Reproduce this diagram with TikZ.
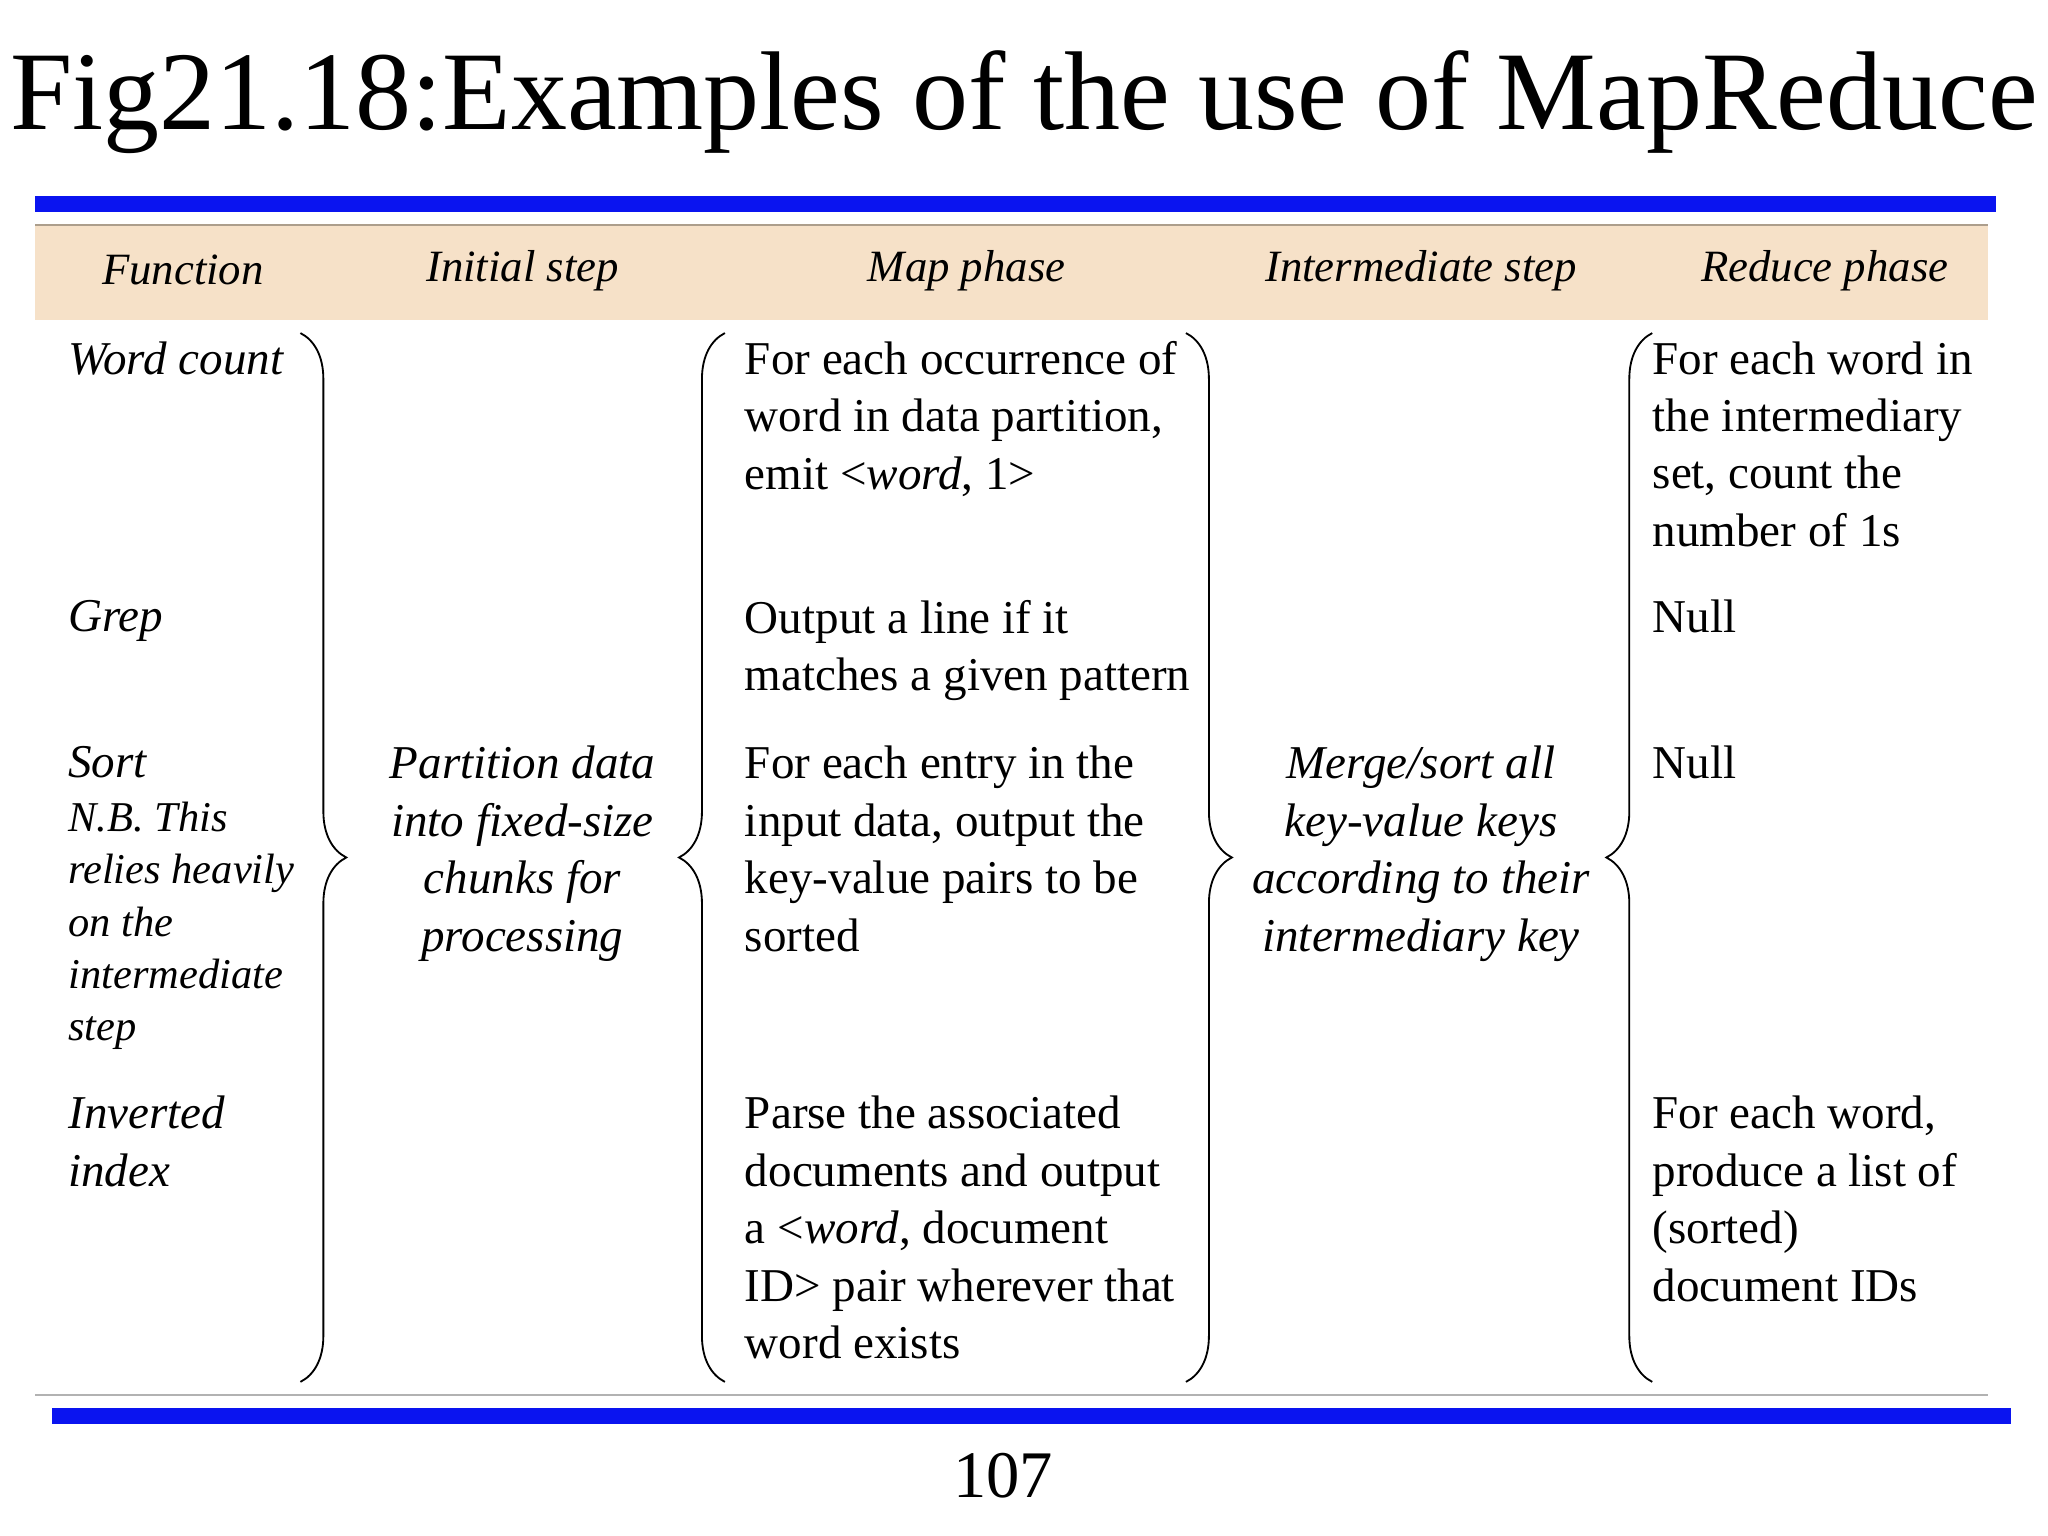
\documentclass[tikz,border=0pt]{standalone}
\usepackage{fontspec}
\setmainfont{Liberation Serif}
\usetikzlibrary{decorations.pathreplacing}
\definecolor{beige}{HTML}{F6E1C8}
\definecolor{barblue}{HTML}{0A14F0}
\tikzset{
 txt/.style={anchor=north west,align=left,inner sep=0pt,font=\fontsize{20.5}{25}\selectfont},
 itx/.style={txt,font=\fontsize{20.5}{25}\selectfont\itshape},
 ctx/.style={anchor=north,align=center,inner sep=0pt,font=\fontsize{20.5}{25}\selectfont\itshape},
 hdr/.style={anchor=center,inner sep=0pt,font=\fontsize{19.5}{24}\selectfont\itshape},
 brc/.style={decorate,decoration={brace,amplitude=20pt},line width=0.8pt},
}
\begin{document}
\begin{tikzpicture}[x=0.02cm,y=-0.02cm]
\useasboundingbox (0,0) rectangle (1568,1176);
\node[font=\fontsize{48.8}{60}\selectfont,inner sep=0pt] (title) at (784,78) {Fig21.18:Examples of the use of MapReduce};
\fill[barblue] (27,150) rectangle (1528,162);
\fill[barblue] (40,1078) rectangle (1540,1090);
\fill[beige] (27,172) rectangle (1522,245);
\draw[beige!70!black,line width=0.8pt] (27,172) -- (1522,172);
\draw[black!30,line width=1pt] (27,1068) -- (1522,1068);
\node[hdr] (h1) at (140,207) {Function};
\node[hdr] (h2) at (400,207) {Initial step};
\node[hdr] (h3) at (740,207) {Map phase};
\node[hdr] (h4) at (1088,207) {Intermediate step};
\node[hdr] (h5) at (1397,207) {Reduce phase};
% braces
\draw[brc] (230,255) -- (230,1058);
\draw[brc] (555,1058) -- (555,255);
\draw[brc] (908,255) -- (908,1058);
\draw[brc] (1265,1058) -- (1265,255);
% function column
\node[itx] (f1) at (52,261) {Word count};
\node[itx] (f2) at (52,459) {Grep};
\node[itx] (f3) at (52,571) {Sort};
\node[itx,font=\fontsize{18.5}{22.7}\selectfont\itshape] (f3b) at (52,614) {N.B. This\\relies heavily\\on the\\intermediate\\step};
\node[itx] (f4) at (52,839) {Inverted\\index};
% initial
\node[ctx] (i1) at (400,571) {Partition data\\into fixed-size\\chunks for\\processing};
% map
\node[txt] (m1) at (570,261) {For each occurrence of\\word in data partition,\\emit <\textit{word}, 1>};
\node[txt] (m2) at (570,459) {Output a line if it\\matches a given pattern};
\node[txt] (m3) at (570,571) {For each entry in the\\input data, output the\\key-value pairs to be\\sorted};
\node[txt] (m4) at (570,839) {Parse the associated\\documents and output\\a <\textit{word}, document\\ID> pair wherever that\\word exists};
% intermediate
\node[ctx] (n1) at (1088,571) {Merge/sort all\\key-value keys\\according to their\\intermediary key};
% reduce
\node[txt] (r1) at (1265,261) {For each word in\\the intermediary\\set, count the\\number of 1s};
\node[txt] (r2) at (1265,459) {Null};
\node[txt] (r3) at (1265,571) {Null};
\node[txt] (r4) at (1265,839) {For each word,\\produce a list of\\(sorted)\\document IDs};
\node[font=\fontsize{29}{34}\selectfont,inner sep=0pt] (pg) at (768,1130) {107};
\end{tikzpicture}
\end{document}
